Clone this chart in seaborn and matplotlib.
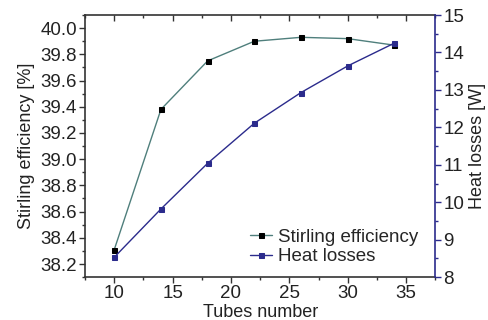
import numpy as np
import pandas as pd
import seaborn as sns
import matplotlib
matplotlib.use("Agg")
import matplotlib.pyplot as plt
from matplotlib.ticker import MultipleLocator, FormatStrFormatter

tubes = [10, 14, 18, 22, 26, 30, 34]
efficiency = [38.31, 39.38, 39.75, 39.90, 39.93, 39.92, 39.87]
heat_losses = [8.53, 9.82, 11.04, 12.11, 12.93, 13.64, 14.25]

sns.set_style("ticks")
plt.rcParams['font.family'] = ['Liberation Sans', 'DejaVu Sans']

eff_color = '#4f7f7c'
heat_color = '#2b2b8c'

data = pd.DataFrame({'tubes': tubes, 'efficiency': efficiency, 'heat': heat_losses})

fig, ax = plt.subplots(figsize=(4.89, 3.2), dpi=100)
fig.subplots_adjust(left=0.174, right=0.89, top=0.953, bottom=0.134)
ax2 = ax.twinx()

sns.lineplot(data=data, x='tubes', y='efficiency', ax=ax, color=eff_color, lw=1,
             marker='s', markersize=3.6, markerfacecolor='black', markeredgecolor='black',
             label='Stirling efficiency', legend=False)
sns.lineplot(data=data, x='tubes', y='heat', ax=ax2, color=heat_color, lw=1,
             marker='s', markersize=3.6, markerfacecolor=heat_color, markeredgecolor=heat_color,
             label='Heat losses', legend=False)

ax.set_xlim(7.5, 37.5)
ax.set_ylim(38.1, 40.1)
ax2.set_ylim(8, 15)
ax.xaxis.set_major_locator(MultipleLocator(5))
ax.xaxis.set_minor_locator(MultipleLocator(2.5))
ax.yaxis.set_major_locator(MultipleLocator(0.2))
ax.yaxis.set_minor_locator(MultipleLocator(0.1))
ax2.yaxis.set_major_locator(MultipleLocator(1))
ax2.yaxis.set_minor_locator(MultipleLocator(0.5))
ax.yaxis.set_major_formatter(FormatStrFormatter('%.1f'))

ax.set_xlabel('Tubes number', fontsize=13, labelpad=1, color='#222222')
ax.set_ylabel('Stirling efficiency [%]', fontsize=13, labelpad=4, color='#222222')
ax2.set_ylabel('Heat losses [W]', fontsize=13, labelpad=3, color='#222222')

spine_col = '#333333'
for s in ['left', 'bottom', 'top']:
    ax.spines[s].set_color(spine_col)
    ax.spines[s].set_linewidth(1.2)
ax2.spines['right'].set_color(heat_color)
ax2.spines['right'].set_linewidth(1.2)
for s in ['left', 'bottom', 'top']:
    ax2.spines[s].set_visible(False)
ax.spines['right'].set_visible(False)

ax.tick_params(axis='both', which='major', length=4, width=1, colors=spine_col,
               labelcolor='#222222', labelsize=13.5, direction='out', pad=2)
ax.tick_params(axis='both', which='minor', length=2.5, width=1, colors=spine_col)
ax.tick_params(axis='x', which='both', top=True)
ax2.tick_params(axis='y', which='major', length=4, width=1, colors=heat_color,
                labelcolor='#222222', labelsize=13.5, pad=2)
ax2.tick_params(axis='y', which='minor', length=2.5, width=1, colors=heat_color)
# top ticks point inward
for t in ax.xaxis.get_major_ticks() + ax.xaxis.get_minor_ticks():
    t.tick2line.set_marker(3)

h1, l1 = ax.get_legend_handles_labels()
h2, l2 = ax2.get_legend_handles_labels()
ax.legend(h1 + h2, l1 + l2, loc='lower right', bbox_to_anchor=(1.0, -0.02), frameon=False,
          fontsize=13.5, handlelength=1.2, handletextpad=0.3, labelspacing=0.15)

fig.savefig('out.png', dpi=100)
